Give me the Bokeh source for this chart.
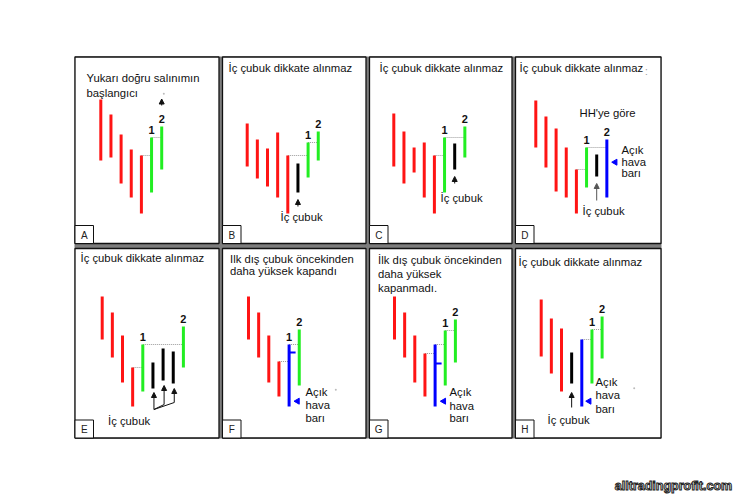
import math
from bokeh.plotting import figure
from bokeh.models import Range1d, Arrow, NormalHead
from bokeh.embed import file_html
from bokeh.resources import INLINE
from bokeh.core.properties import value

# ---------------- data (bar highs / lows in price units) ----------------
A_high = [131, 116, 96, 81, 75, 93, 104]
A_low = [70, 73, 47, 33, 17, 38, 61]
A_kind = ["d", "d", "d", "d", "d", "u", "u"]

B_high = [107, 91, 82, 98, 75, 67, 88, 99]
B_low = [64, 52, 44, 33, 17, 38, 53, 70]
B_kind = ["d", "d", "d", "d", "d", "i", "u", "u"]

C_high = [117, 99, 83, 88, 75, 93, 87, 104]
C_low = [64, 47, 58, 33, 17, 38, 61, 73]
C_kind = ["d", "d", "d", "d", "d", "u", "i", "u"]

D_high = [130, 114, 102, 83, 61, 83, 76, 91]
D_low = [83, 63, 39, 33, 17, 43, 54, 33]
D_kind = ["d", "d", "d", "d", "d", "u", "i", "o"]

E_high = [129, 113, 90, 58, 81, 63, 77, 74, 99]
E_low = [86, 68, 43, 19, 34, 37, 45, 42, 58]
E_kind = ["d", "d", "d", "d", "u", "i", "i", "i", "u"]

F_high = [129, 113, 90, 64, 81, 96]
F_low = [86, 68, 43, 29, 19, 40]
F_kind = ["d", "d", "d", "d", "o", "u"]
F_close = {4: 73}

G_high = [129, 113, 90, 72, 81, 95, 106]
G_low = [86, 68, 43, 29, 19, 40, 63]
G_kind = ["d", "d", "d", "d", "o", "u", "u"]
G_close = {4: 62}

H_high = [126, 107, 97, 73, 86, 96, 109]
H_low = [69, 52, 34, 42, 19, 42, 67]
H_kind = ["d", "d", "d", "i", "o", "u", "u"]

PANEL_LETTERS = ["A", "B", "C", "D", "E", "F", "G", "H"]

# ---------------- layout / style ----------------
COLORS = {"d": "#ff1414", "u": "#22ee22", "i": "#000000", "o": "#0000ff"}
ROW_BASE = [230, 425]
STEP = 10.15
COLS = [(74.5, 218.5), (222, 365.5), (369, 511.5), (515, 660.5)]
ROWS = [(56.5, 243), (248, 437.5)]
FONT = value("Liberation Sans")
W, H = 735, 496

panels = [
    dict(high=A_high, low=A_low, kind=A_kind, row=0, x0=100.3, links=[(4, 5), (5, 6)], one=5, two=6),
    dict(high=B_high, low=B_low, kind=B_kind, row=0, x0=246.7, links=[(4, 6), (6, 7)], one=6, two=7),
    dict(high=C_high, low=C_low, kind=C_kind, row=0, x0=393.3, links=[(4, 5), (5, 7)], one=5, two=7),
    dict(high=D_high, low=D_low, kind=D_kind, row=0, x0=535.3, links=[(4, 5), (5, 7)], one=5, two=7),
    dict(high=E_high, low=E_low, kind=E_kind, row=1, x0=101.7, links=[(3, 4), (4, 8)], one=4, two=8),
    dict(high=F_high, low=F_low, kind=F_kind, row=1, x0=248.0, links=[(3, 4), (4, 5)], one=4, two=5, close=F_close),
    dict(high=G_high, low=G_low, kind=G_kind, row=1, x0=394.0, links=[(3, 4), (4, 5), (5, 6)], one=5, two=6, close=G_close),
    dict(high=H_high, low=H_low, kind=H_kind, row=1, x0=540.7, links=[(4, 5), (5, 6)], one=5, two=6),
]

p = figure(width=W, height=H, x_range=Range1d(0, W), y_range=Range1d(H, 0),
           output_backend="svg", toolbar_location=None, min_border=0,
           x_axis_location=None, y_axis_location=None)
p.xgrid.visible = False
p.ygrid.visible = False
p.outline_line_color = None
p.background_fill_color = "white"
p.border_fill_color = "white"

# frame: grey separators behind white panels
p.quad(left=[74], right=[661], top=[56], bottom=[438], fill_color="#7d7d7d", line_color=None)
pl, pr, pt, pb = [], [], [], []
bl, br, bt, bb, lx, ly = [], [], [], [], [], []
for r, (top, bot) in enumerate(ROWS):
    for c, (left, right) in enumerate(COLS):
        pl.append(left); pr.append(right); pt.append(top); pb.append(bot)
        bl.append(left); br.append(left + 18.5); bt.append(bot - 18); bb.append(bot)
        lx.append(left + 9.25); ly.append(bot - 8.5)
p.quad(left=pl, right=pr, top=pt, bottom=pb, fill_color="white", line_color="#111111", line_width=1.3)
p.quad(left=bl, right=br, top=bt, bottom=bb, fill_color="white", line_color="#111111", line_width=1)
p.text(x=lx, y=ly, text=PANEL_LETTERS, text_font=FONT, text_font_size="10px",
       text_align="center", text_baseline="middle", text_color="#222222")

# bars, dotted links, numbers, close ticks
bx, bt_, bb_, bc = [], [], [], []
dx0, dx1, dy = [], [], []
nx, ny, nt = [], [], []
cx0, cx1, cy = [], [], []
for pn in panels:
    base = ROW_BASE[pn["row"]]
    xs = [pn["x0"] + STEP * i for i in range(len(pn["high"]))]
    pn["xs"] = xs
    for i, (h, l, k) in enumerate(zip(pn["high"], pn["low"], pn["kind"])):
        bx.append(xs[i]); bt_.append(base - h); bb_.append(base - l); bc.append(COLORS[k])
    for a, b in pn["links"]:
        dx0.append(xs[a]); dx1.append(xs[b]); dy.append(base - pn["high"][a])
    for idx, t in ((pn["one"], "1"), (pn["two"], "2")):
        nx.append(xs[idx]); ny.append(base - pn["high"][idx] - 8); nt.append(t)
    for idx, cval in pn.get("close", {}).items():
        cx0.append(xs[idx]); cx1.append(xs[idx] + 6.5); cy.append(base - cval)

p.segment(x0=dx0, y0=dy, x1=dx1, y1=dy, line_color="#9a9a9a", line_width=1, line_dash="1 1")
p.segment(x0=bx, y0=bt_, x1=bx, y1=bb_, line_color=bc, line_width=3)
p.segment(x0=cx0, y0=cy, x1=cx1, y1=cy, line_color="#0000ff", line_width=2)
p.text(x=nx, y=ny, text=nt, text_font=FONT, text_font_size="11px", text_font_style="bold",
       text_align="center", text_baseline="middle", text_color="#111111")

# arrows (panel index, bar index, from price, to price, colour)
ARROWS = [(0, 6, 125, 131.5, "#111111"), (1, 5, 24, 31, "#111111"), (2, 6, 47, 54, "#111111"),
          (3, 6, 30, 47, "#555555"), (7, 3, 18, 33, "#111111")]
for pi, bi, f, t, col in ARROWS:
    pn = panels[pi]
    base = ROW_BASE[pn["row"]]
    p.add_layout(Arrow(end=NormalHead(size=5, fill_color=col, line_color=col), line_color=col, line_width=1,
                       x_start=pn["xs"][bi], y_start=base - f, x_end=pn["xs"][bi], y_end=base - t))

# panel E fork arrows
pE = panels[4]
baseE = ROW_BASE[1]
fork_x, fork_p = pE["xs"][5] + 1, 16
FORK = [(5, 16, 33), (6, 21, 40), (7, 23, 37)]
sx0, sy0, sx1, sy1 = [], [], [], []
for bi, knee, tip in FORK:
    kx = pE["xs"][bi] + 1
    sx0.append(fork_x); sy0.append(baseE - fork_p); sx1.append(kx); sy1.append(baseE - knee)
    p.add_layout(Arrow(end=NormalHead(size=5, fill_color="#111111", line_color="#111111"),
                       line_color="#111111", line_width=1,
                       x_start=kx, y_start=baseE - knee, x_end=kx, y_end=baseE - tip))
p.segment(x0=sx0, y0=sy0, x1=sx1, y1=sy1, line_color="#111111", line_width=1)

# blue "open air bar" pointers
p.scatter(x=[614.7, 297, 443.3, 588.7], y=[161.7, 400.7, 400.7, 400.7], marker="triangle",
          size=6, angle=math.pi / 2, fill_color="#0000ff", line_color="#0000ff")
# faint grey specks
p.scatter(x=[163.3, 335.3, 633.7], y=[93.3, 389.3, 387.7], size=2, fill_color="#bbbbbb", line_color=None)

# texts
T = [
    ("Yukarı doğru salınımın", 86, 77), ("başlangıcı", 86, 92),
    ("İç çubuk dikkate alınmaz", 228, 67.5),
    ("İç çubuk dikkate alınmaz", 379, 67.5),
    ("İç çubuk dikkate alınmaz", 519, 67),
    ("İç çubuk dikkate alınmaz", 80, 257),
    ("Ilk dış çubuk öncekinden", 229.5, 258), ("daha yüksek kapandı", 229.5, 270),
    ("İlk dış çubuk öncekinden", 377.5, 259), ("daha yüksek", 377.5, 273.5), ("kapanmadı.", 377.5, 287),
    ("İç çubuk dikkate alınmaz", 518, 261),
    ("HH'ye göre", 579, 112),
    ("İç çubuk", 280, 216.5), ("İç çubuk", 440, 197.5), ("İç çubuk", 582, 210),
    ("İç çubuk", 107.5, 420), ("İç çubuk", 547, 419),
    ("Açık", 621, 149.5), ("hava", 621, 161), ("barı", 621, 172.5),
    ("Açık", 305, 391.5), ("hava", 305, 404.5), ("barı", 305, 417.5),
    ("Açık", 449, 391.5), ("hava", 449, 405), ("barı", 449, 417.5),
    ("Açık", 595, 381.5), ("hava", 595, 394.5), ("barı", 595, 408),
]
p.text(x=[t[1] for t in T], y=[t[2] for t in T], text=[t[0] for t in T], text_font=FONT,
       text_font_size="11.3px", text_align="left", text_baseline="middle", text_color="#111111")
p.text(x=[646], y=[71], text=[":"], text_font=FONT, text_font_size="10px", text_color="#999999",
       text_align="center", text_baseline="middle")

# watermark
p.text(x=[673], y=[485], text=["alltradingprofit.com"], text_font=FONT, text_font_size="12.5px",
       text_font_style="bold", text_align="center", text_baseline="middle", text_color="white",
       text_outline_color="#222222")

open("out.html", "w").write(file_html(p, INLINE))
